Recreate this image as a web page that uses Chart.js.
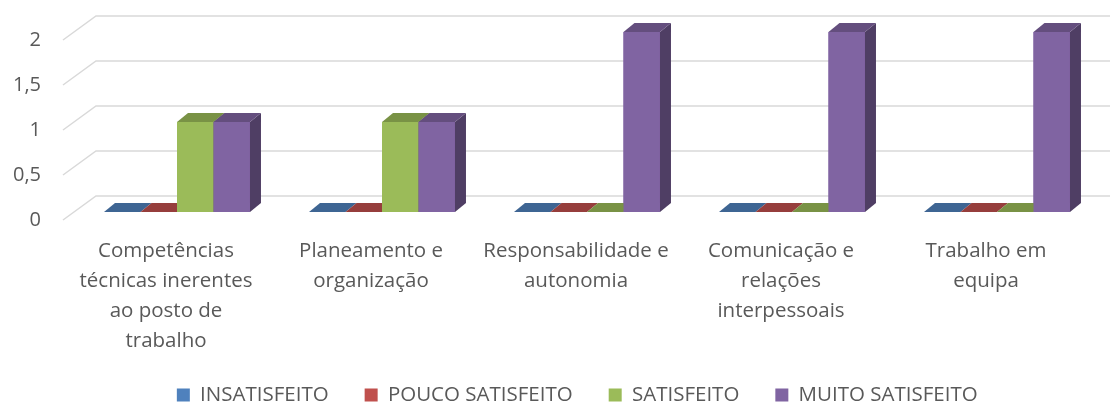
<!DOCTYPE html>
<html>
<head>
<meta charset="utf-8">
<script src="https://cdn.jsdelivr.net/npm/chart.js@4.4.1/dist/chart.umd.min.js"></script>
<style>
  body { margin: 0; background: #fff; }
  #wrap { width: 1110px; height: 403px; }
</style>
</head>
<body>
<div id="wrap"><canvas id="grafico"></canvas></div>
<script>
var categorias = [
  ["Competências", "técnicas inerentes", "ao posto de", "trabalho"],
  ["Planeamento e", "organização"],
  ["Responsabilidade e", "autonomia"],
  ["Comunicação e", "relações", "interpessoais"],
  ["Trabalho em", "equipa"]
];
var series = ["INSATISFEITO", "POUCO SATISFEITO", "SATISFEITO", "MUITO SATISFEITO"];
var insatisfeito = [0, 0, 0, 0, 0];
var poucoSatisfeito = [0, 0, 0, 0, 0];
var satisfeito = [1, 1, 0, 0, 0];
var muitoSatisfeito = [1, 1, 2, 2, 2];
var ticksY = [0, 0.5, 1, 1.5, 2];
var cores = ["#4F81BD", "#C0504D", "#9BBB59", "#8064A2"];

Chart.defaults.font.family = "'Open Sans', sans-serif";
Chart.defaults.color = "#595959";

function escurecer(hex, f) {
  var n = parseInt(hex.slice(1), 16);
  var r = Math.round((n >> 16) * f);
  var g = Math.round(((n >> 8) & 255) * f);
  var b = Math.round((n & 255) * f);
  return "rgb(" + r + "," + g + "," + b + ")";
}

// grelha em perspetiva + faces laterais/topo das colunas
var efeito3D = {
  id: "efeito3D",
  beforeDatasetsDraw: function(chart) {
    var ctx = chart.ctx, area = chart.chartArea, y = chart.scales.y;
    ctx.save();
    ctx.strokeStyle = "#D9D9D9";
    ctx.lineWidth = 1.5;
    y.ticks.forEach(function(t) {
      var py = y.getPixelForValue(t.value);
      ctx.beginPath();
      ctx.moveTo(area.left - 11.5, py + 8);
      ctx.lineTo(area.left + 21.5, py - 16);
      ctx.lineTo(chart.width, py - 16);
      ctx.stroke();
    });
    ctx.restore();
  },
  afterDatasetsDraw: function(chart) {
    var ctx = chart.ctx;
    var dx = 11, dy = -9;
    ctx.save();
    for (var c = 0; c < categorias.length; c++) {
      chart.data.datasets.forEach(function(ds, i) {
        var bar = chart.getDatasetMeta(i).data[c];
        var x0 = bar.x - bar.width / 2, x1 = bar.x + bar.width / 2;
        var topo = bar.y, base = bar.base;
        var cor = ds.backgroundColor;

        ctx.fillStyle = cor;
        ctx.fillRect(x0, topo, x1 - x0, base - topo);

        ctx.fillStyle = escurecer(cor, 0.62);
        ctx.beginPath();
        ctx.moveTo(x1, topo);
        ctx.lineTo(x1 + dx, topo + dy);
        ctx.lineTo(x1 + dx, base + dy);
        ctx.lineTo(x1, base);
        ctx.closePath();
        ctx.fill();

        ctx.fillStyle = escurecer(cor, 0.78);
        ctx.beginPath();
        ctx.moveTo(x0, topo);
        ctx.lineTo(x1, topo);
        ctx.lineTo(x1 + dx, topo + dy);
        ctx.lineTo(x0 + dx, topo + dy);
        ctx.closePath();
        ctx.fill();
      });
    }
    ctx.restore();
  }
};

var valores = [insatisfeito, poucoSatisfeito, satisfeito, muitoSatisfeito];

function semPadding(s) {
  s.paddingTop = 0;
  s.paddingBottom = 0;
}

new Chart(document.getElementById("grafico"), {
  type: "bar",
  data: {
    labels: categorias,
    datasets: series.map(function(nome, i) {
      return {
        label: nome,
        data: valores[i],
        backgroundColor: cores[i],
        borderWidth: 0,
        barPercentage: 1,
        categoryPercentage: 0.712
      };
    })
  },
  options: {
    responsive: true,
    maintainAspectRatio: false,
    animation: false,
    layout: { padding: { left: 0, right: -44.5, top: 32, bottom: -12.25 } },
    plugins: {
      tooltip: { enabled: false },
      legend: {
        position: "bottom",
        labels: {
          boxWidth: 13,
          boxHeight: 13,
          padding: 36,
          font: { size: 20.5 },
          color: "#595959"
        }
      }
    },
    scales: {
      x: {
        grid: { display: false, drawTicks: false },
        border: { display: false },
        ticks: {
          padding: 24,
          labelOffset: -11,
          maxRotation: 0,
          minRotation: 0,
          autoSkip: false,
          font: { size: 20.5, lineHeight: 30 / 20.5 },
          color: "#595959"
        },
        afterFit: function(s) { s.height = 136.75; }
      },
      y: {
        min: 0,
        max: 2,
        grid: { display: false, drawTicks: false },
        border: { display: false },
        afterBuildTicks: function(s) {
          s.ticks = ticksY.map(function(v) { return { value: v }; });
        },
        ticks: {
          padding: 33.5,
          labelOffset: 8.5,
          font: { size: 20 },
          color: "#595959",
          callback: function(v) { return String(v).replace(".", ","); }
        },
        afterFit: function(s) { s.width = 74.5; semPadding(s); }
      },
      // eixo vazio à direita, só para reservar espaço
      y2: {
        type: "linear",
        position: "right",
        grid: { display: false, drawTicks: false },
        border: { display: false },
        ticks: { display: false },
        afterFit: function(s) { s.width = 55; semPadding(s); }
      }
    }
  },
  plugins: [efeito3D]
});
</script>
</body>
</html>
